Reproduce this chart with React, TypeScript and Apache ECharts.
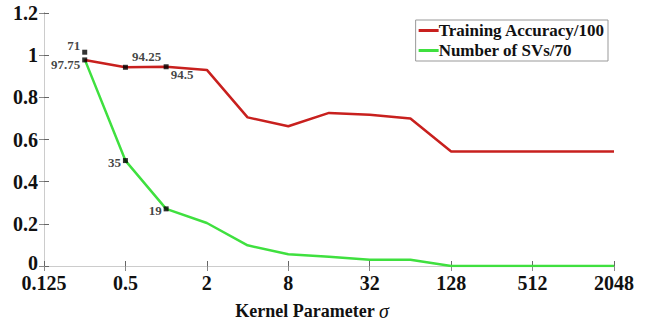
import React, { useEffect, useRef } from "react";
import * as echarts from "echarts";

const sigmas = [0.25, 0.5, 1, 2, 4, 8, 16, 32, 64, 128, 256, 512, 1024, 2048];
const accuracyScaled = [0.9775, 0.9425, 0.945, 0.93, 0.705, 0.663, 0.726, 0.717, 0.7, 0.543, 0.543, 0.543, 0.543, 0.543];
const svsScaled = [0.98, 0.5, 0.271, 0.204, 0.098, 0.056, 0.044, 0.03, 0.03, 0.0, 0.0, 0.0, 0.0, 0.0];
const xTickSigmas = ["0.125", "0.5", "2", "8", "32", "128", "512", "2048"];

const annSigma = [0.25, 0.25, 0.5, 1, 0.5, 1];
const annValue = [1.014, 0.9775, 0.9425, 0.945, 0.5, 0.271];
const annText = ["71", "97.75", "94.25", "94.5", "35", "19"];
const annPos = ["tl", "bl", "tr", "br", "l", "l"];

const toX = (s: number) => Math.log2(s) + 3;

export default function App() {
  const ref = useRef<HTMLDivElement>(null);
  useEffect(() => {
    if (!ref.current) return;
    const chart = echarts.init(ref.current, undefined, { renderer: "svg" });
    const font = "Liberation Serif, Times New Roman, serif";
    const posMap: Record<string, any> = {
      tl: { position: "left", offset: [0, -7] },
      bl: { position: "left", offset: [0, 5] },
      tr: { position: "right", offset: [2, -11] },
      br: { position: "right", offset: [0, 8] },
      l: { position: "left", offset: [0, 2] },
    };
    const annData = annSigma.map((s, i) => ({
      value: [toX(s), annValue[i]],
      label: { show: true, formatter: annText[i], distance: 2, ...posMap[annPos[i]] },
    }));
    const tickFmt = (v: number) => {
      const idx = Math.round(v / 2);
      return xTickSigmas[idx] ?? "";
    };
    const yFmt = (v: number) => {
      const s = String(Math.round(v * 10) / 10);
      return v === 0 ? "{z|" + s + "}" : s;
    };
    chart.setOption({
      animation: false,
      backgroundColor: "#fff",
      grid: { left: 44, right: 33, top: 13, bottom: 56, containLabel: false, outerBoundsMode: "none" },
      legend: {
        data: ["Training Accuracy/100", "Number of SVs/70"],
        right: 39,
        top: 20,
        orient: "vertical",
        itemWidth: 20,
        itemHeight: 3,
        itemGap: 3,
        padding: [2, 3, 2, 3],
        borderColor: "#999",
        borderWidth: 1,
        borderRadius: 0,
        backgroundColor: "#fff",
        icon: "rect",
        textStyle: { fontFamily: font, fontWeight: "bold", fontSize: 17, color: "#111", padding: [0, 0, 0, -5] },
      },
      xAxis: [
        {
          type: "value",
          min: 0,
          max: 14,
          interval: 2,
          axisLine: { show: true, lineStyle: { color: "#666", width: 1 } },
          axisTick: { show: true, inside: true, length: 5, lineStyle: { color: "#666" } },
          splitLine: { show: false },
          axisLabel: { formatter: tickFmt, fontFamily: font, fontWeight: "bold", fontSize: 20, lineHeight: 16, color: "#111", margin: 9 },
          name: "Kernel Parameter {i|σ}",
          nameLocation: "middle",
          nameGap: 35,
          nameTextStyle: {
            fontFamily: font,
            fontWeight: "bold",
            fontSize: 18,
            color: "#111",
            padding: [0, 34, 0, 0],
            rich: { i: { fontFamily: font, fontStyle: "italic", fontWeight: "normal", fontSize: 20, color: "#111" } },
          },
        },
        {
          type: "value",
          position: "top",
          min: 0,
          max: 14,
          interval: 2,
          axisLine: { show: true, lineStyle: { color: "#ccc", width: 1 } },
          axisTick: { show: true, inside: true, length: 5, lineStyle: { color: "#888" } },
          axisLabel: { show: false },
          splitLine: { show: false },
        },
      ],
      yAxis: [
        {
          type: "value",
          min: 0,
          max: 1.2,
          interval: 0.2,
          axisLine: { show: true, lineStyle: { color: "#666", width: 1 } },
          axisTick: { show: true, inside: true, length: 5, lineStyle: { color: "#666" } },
          splitLine: { show: false },
          axisLabel: {
            formatter: yFmt,
            fontFamily: font,
            fontWeight: "bold",
            fontSize: 20,
            lineHeight: 14,
            color: "#111",
            margin: 6,
            rich: { z: { fontFamily: font, fontWeight: "bold", fontSize: 20, lineHeight: 14, color: "#111", padding: [0, 0, 6, 0] } },
          },
        },
        {
          type: "value",
          position: "right",
          min: 0,
          max: 1.2,
          interval: 0.2,
          axisLine: { show: true, lineStyle: { color: "#ccc", width: 1 } },
          axisTick: { show: true, inside: true, length: 5, lineStyle: { color: "#888" } },
          axisLabel: { show: false },
          splitLine: { show: false },
        },
      ],
      series: [
        {
          name: "Training Accuracy/100",
          type: "line",
          data: sigmas.map((s, i) => [toX(s), accuracyScaled[i]]),
          showSymbol: false,
          symbol: "none",
          lineStyle: { color: "#C8201E", width: 2.5 },
          itemStyle: { color: "#C8201E" },
          z: 3,
        },
        {
          name: "Number of SVs/70",
          type: "line",
          data: sigmas.map((s, i) => [toX(s), svsScaled[i]]),
          showSymbol: false,
          symbol: "none",
          lineStyle: { color: "#3FE03F", width: 2.5 },
          itemStyle: { color: "#3FE03F" },
          z: 2,
        },
        {
          name: "annotations",
          type: "scatter",
          symbol: "rect",
          symbolSize: 5,
          itemStyle: { color: "#000" },
          label: { fontFamily: font, fontWeight: "bold", fontSize: 13, color: "#111" },
          data: annData,
          z: 5,
        },
      ],
    });
    return () => chart.dispose();
  }, []);
  return <div ref={ref} style={{ width: 647, height: 322, position: "absolute", left: 0, top: 0 }} />;
}
